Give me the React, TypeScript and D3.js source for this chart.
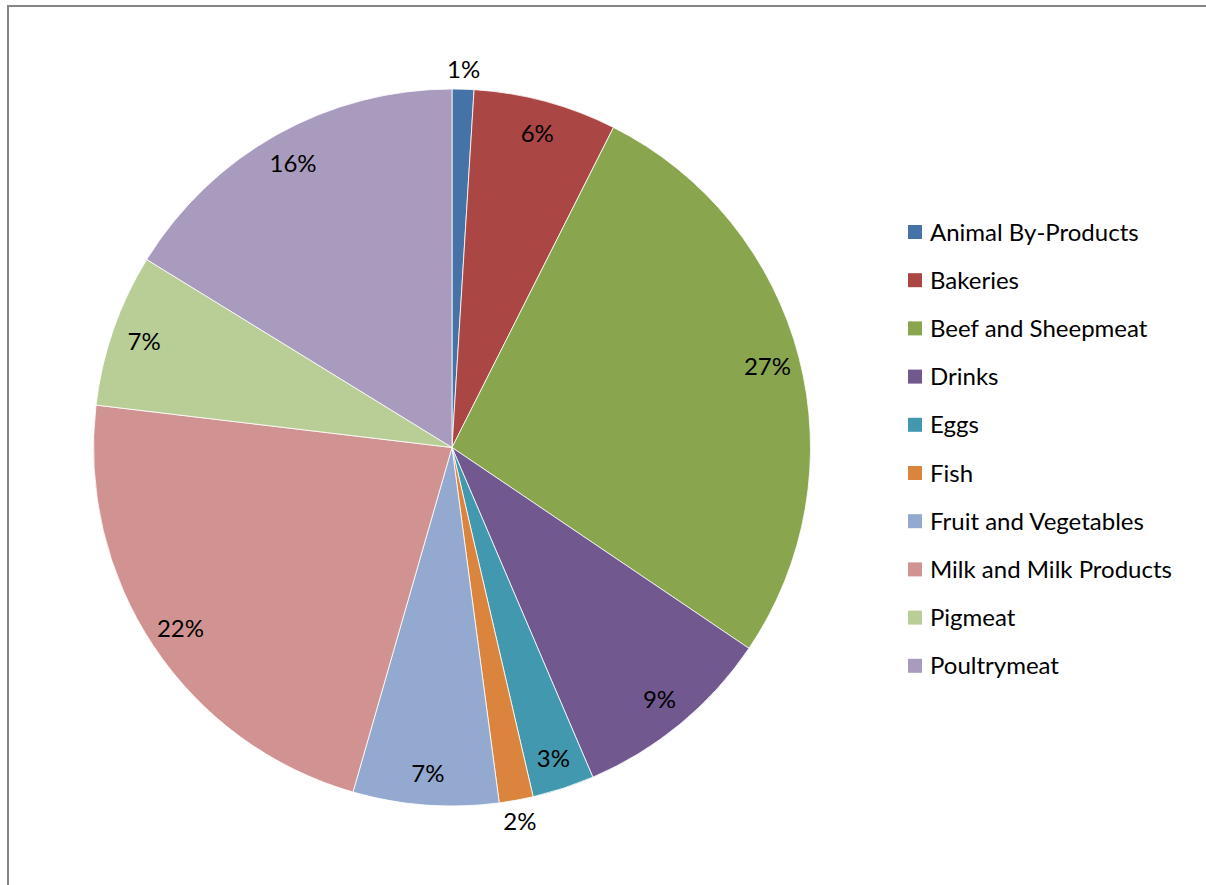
import React from "react";
import * as d3 from "d3";

// Share of output by food sector (percent)
const categories = [
  "Animal By-Products",
  "Bakeries",
  "Beef and Sheepmeat",
  "Drinks",
  "Eggs",
  "Fish",
  "Fruit and Vegetables",
  "Milk and Milk Products",
  "Pigmeat",
  "Poultrymeat",
];
const shares = [0.98, 6.45, 27.0, 9.1, 2.79, 1.53, 6.55, 22.41, 6.89, 16.2];
const colors = [
  "#4572A7",
  "#AA4643",
  "#89A54E",
  "#71588F",
  "#4198AF",
  "#DB843D",
  "#93A9CF",
  "#D19392",
  "#B9CD96",
  "#A99BBD",
];

const W = 1206;
const H = 885;
const FONT = "Lato, 'Open Sans', sans-serif";

export default function App() {
  const cx = 452;
  const cy = 447.5;
  const radius = 358.5;
  const total = d3.sum(shares);

  const pie = d3
    .pie<number>()
    .sort(null)
    .value((d) => d)
    .startAngle(0)
    .endAngle(2 * Math.PI);
  const arcs = pie(shares);
  const arcGen = d3.arc<d3.PieArcDatum<number>>().innerRadius(0).outerRadius(radius);

  const legendX = 908;
  const legendY0 = 231;
  const legendStep = 48.2;

  return (
    <svg
      width={W}
      height={H}
      style={{ position: "absolute", left: 0, top: 0, background: "#fff" }}
      fontFamily={FONT}
    >
      {/* chart frame */}
      <rect x={8} y={6} width={W + 20} height={H + 20} fill="none" stroke="#868686" strokeWidth={2} />

      <g transform={`translate(${cx},${cy})`}>
        {arcs.map((a, i) => (
          <path key={categories[i]} d={arcGen(a) || ""} fill={colors[i]} stroke="#fff" strokeWidth={0.8} />
        ))}
        {arcs.map((a, i) => {
          const pct = (a.value / total) * 100;
          const mid = (a.startAngle + a.endAngle) / 2;
          const r = pct < 2.5 ? 379 : 326;
          const x = Math.sin(mid) * r;
          const y = -Math.cos(mid) * r;
          return (
            <text
              key={"l" + i}
              x={x}
              y={y}
              textAnchor="middle"
              dominantBaseline="central"
              fontSize={24}
              fill="#000"
            >
              {`${Math.round(pct)}%`}
            </text>
          );
        })}
      </g>

      <g>
        {categories.map((c, i) => {
          const y = legendY0 + i * legendStep;
          return (
            <g key={c}>
              <rect x={legendX} y={y - 6} width={14} height={14} fill={colors[i]} />
              <text x={930} y={y} dominantBaseline="central" fontSize={24} fill="#000">
                {c}
              </text>
            </g>
          );
        })}
      </g>
    </svg>
  );
}
